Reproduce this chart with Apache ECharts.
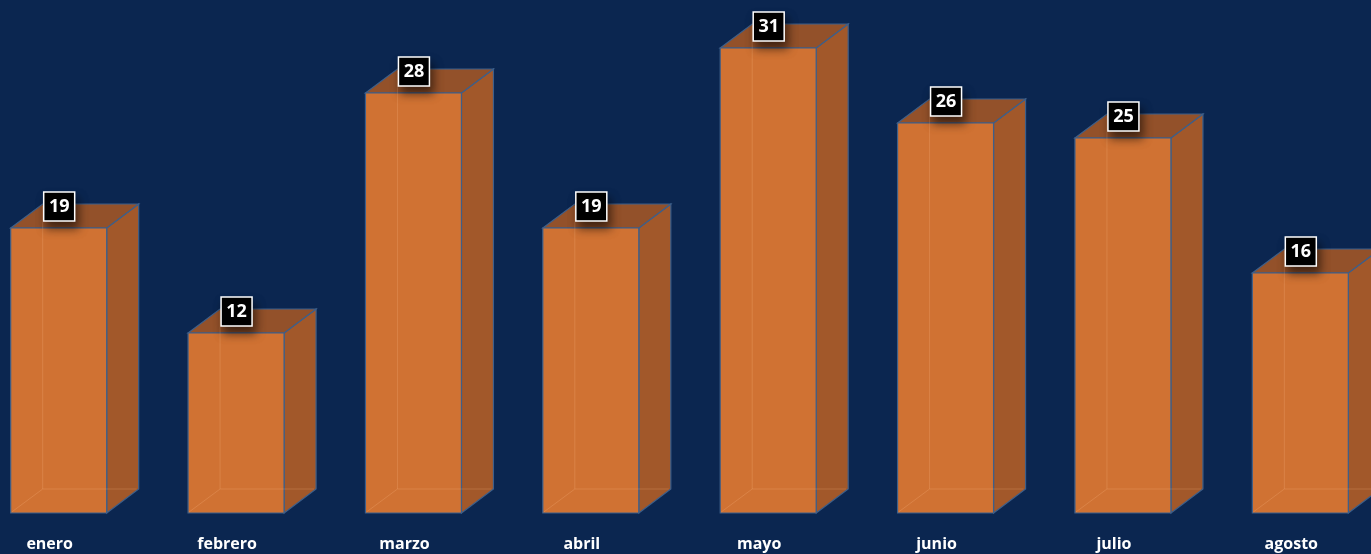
<!DOCTYPE html>
<html>
<head>
<meta charset="utf-8">
<script src="https://cdn.jsdelivr.net/npm/echarts@6/dist/echarts.min.js"></script>
<style>
  html, body { margin: 0; padding: 0; background: #0b2650; }
  #chart { width: 1371px; height: 554px; }
</style>
</head>
<body>
<div id="chart"></div>
<script>
  // datos del gráfico
  var meses = ['enero', 'febrero', 'marzo', 'abril', 'mayo', 'junio', 'julio', 'agosto']
  var valores = [19, 12, 28, 19, 31, 26, 25, 16]

  var chart = echarts.init(document.getElementById('chart'))

  // caja 3D: frente, lado, tapa
  function renderBox (params, api) {
    var idx = api.value(0)
    var top = api.coord([idx, api.value(1)])
    var base = api.coord([idx, 0])
    var w = 96, dx = 32, dy = 24
    var cx = top[0] + 9
    var x0 = cx - w / 2
    var x1 = x0 + w
    var yT = top[1], yB = base[1]
    var edge = { stroke: '#3d5f8a', lineWidth: 1.2 }
    var faint = { fill: null, stroke: 'rgba(255,190,140,0.22)', lineWidth: 1 }
    return {
      type: 'group',
      children: [
        { type: 'polygon', shape: { points: [[x1, yT], [x1 + dx, yT - dy], [x1 + dx, yB - dy], [x1, yB]] },
          style: Object.assign({ fill: '#a2582a' }, edge) },
        { type: 'polygon', shape: { points: [[x0, yT], [x0 + dx, yT - dy], [x1 + dx, yT - dy], [x1, yT]] },
          style: Object.assign({ fill: '#93512a' }, edge) },
        { type: 'rect', shape: { x: x0, y: yT, width: w, height: yB - yT },
          style: Object.assign({ fill: '#d07233' }, edge) },
        // aristas traseras vistas por transparencia
        { type: 'line', shape: { x1: x0 + dx, y1: yT - dy + 2, x2: x0 + dx, y2: yB - dy }, style: faint },
        { type: 'line', shape: { x1: x0 + dx, y1: yB - dy, x2: x1 + dx - 2, y2: yB - dy }, style: faint },
        { type: 'line', shape: { x1: x0 + 1, y1: yB - 1, x2: x0 + dx, y2: yB - dy }, style: faint },
        // etiqueta
        { type: 'rect', shape: { x: cx - 15, y: yT - 36, width: 31, height: 29 },
          style: { fill: '#000', stroke: '#fff', lineWidth: 1.5,
                   shadowBlur: 10, shadowColor: 'rgba(0,0,0,0.55)', shadowOffsetY: 7, shadowOffsetX: 3 } },
        { type: 'text', x: cx + 0.5, y: yT - 21.5,
          style: { text: String(api.value(1)), fill: '#fff', font: 'bold 18px "Open Sans"',
                   align: 'center', verticalAlign: 'middle' } }
      ]
    }
  }

  chart.setOption({
    backgroundColor: '#0b2650',
    animation: false,
    grid: { left: -39, right: -9, top: 33, bottom: 41, outerBoundsMode: 'none' },
    xAxis: {
      type: 'category',
      data: meses,
      axisLine: { show: false },
      axisTick: { show: false },
      axisLabel: { color: '#fff', fontFamily: 'Open Sans', fontWeight: 'bold', fontSize: 16, margin: 23 }
    },
    yAxis: {
      type: 'value',
      min: 0,
      max: 32,
      show: false,
      splitLine: { show: false }
    },
    series: [
      {
        type: 'custom',
        renderItem: renderBox,
        encode: { x: 0, y: 1 },
        data: valores.map(function (v, i) { return [i, v] })
      }
    ]
  })
</script>
</body>
</html>
